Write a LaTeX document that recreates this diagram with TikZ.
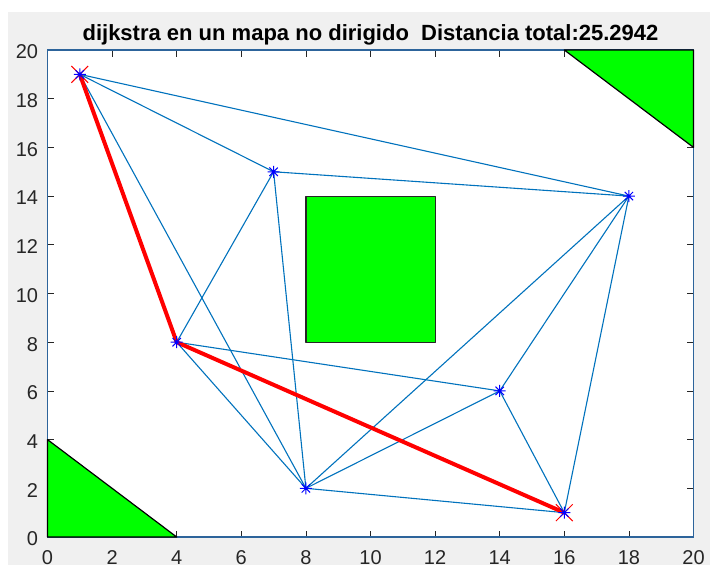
\documentclass[tikz,border=0pt]{standalone}
\usepackage{fontspec}
\setmainfont{Liberation Sans}
\usepackage{xcolor}
\definecolor{lineablue}{RGB}{0,114,189}
\definecolor{fondogris}{RGB}{240,240,240}
\definecolor{ejeazul}{RGB}{45,100,155}
\definecolor{ejegris}{RGB}{38,38,38}
\definecolor{obstverde}{RGB}{0,255,0}
\usepackage{tikz}
\usetikzlibrary{calc}

% Marcadores de los nodos
\tikzset{
    asterisco/.pic={\draw[blue, line width=0.5pt] (-3pt,0) -- (3pt,0) (0,-3pt) -- (0,3pt) (-2.1pt,-2.1pt) -- (2.1pt,2.1pt) (-2.1pt,2.1pt) -- (2.1pt,-2.1pt);},
    cruz/.pic={\draw[red, line width=0.5pt] (-4.2pt,-4.2pt) -- (4.2pt,4.2pt) (-4.2pt,4.2pt) -- (4.2pt,-4.2pt);}
}

\begin{document}
\begin{tikzpicture}[x=16.15pt, y=12.175pt,
        arista/.style={draw=lineablue, line width=0.55pt},
        ruta/.style={draw=red, line width=2pt, line join=round},
        obstaculo/.style={fill=obstverde, draw=black, line width=0.6pt, line join=round},
        marca/.style={draw=ejegris, line width=0.4pt},
        etiqueta/.style={font=\fontsize{10}{12}\selectfont, text=ejegris, inner sep=0pt}]

        \useasboundingbox (-1.4706,-1.3552) rectangle (20.6966,22.0534);
        \fill[fondogris] (-1.223,-1.15) rectangle (20.5,21.56);
        \fill[white] (0,0) rectangle (20,20);

        % Ejes y marcas
        \foreach \t in {0,2,...,20} {
            \draw[marca] (\t,0) -- ++(0,3.25pt);
            \draw[marca] (\t,20) -- ++(0,-3.25pt);
            \draw[marca] (0,\t) -- ++(3.25pt,0);
            \draw[marca] (20,\t) -- ++(-3.25pt,0);
            \node[etiqueta] (xl\t) at (\t,-0.84) {\t};
            \node[etiqueta, anchor=east] (yl\t) at (-0.28,\t-0.08) {\t};
        }
        \draw[ejeazul, line width=0.9pt] (0,0) rectangle (20,20);

        \node[font=\bfseries\fontsize{11}{13}\selectfont, anchor=base, inner sep=0pt] (titulo) at (10,20.41) {dijkstra en un mapa no dirigido\ \ Distancia total:25.2942};

        % Obstaculos
        \draw[obstaculo] (0,0) -- (0,4) -- (4,0) -- cycle;
        \draw[obstaculo] (16,20) -- (20,20) -- (20,16) -- cycle;
        \draw[obstaculo, draw=ejegris] (8,8) rectangle (12,14);

        % Nodos del mapa
        \coordinate (n1) at (1,19);
        \coordinate (n2) at (7,15);
        \coordinate (n3) at (18,14);
        \coordinate (n4) at (4,8);
        \coordinate (n5) at (14,6);
        \coordinate (n6) at (8,2);
        \coordinate (n7) at (16,1);

        % Aristas
        \draw[arista] (n1) -- (n3);
        \draw[arista] (n1) -- (n2);
        \draw[arista] (n1) -- (n4);
        \draw[arista] (n1) -- (n6);
        \draw[arista] (n2) -- (n3);
        \draw[arista] (n2) -- (n4);
        \draw[arista] (n2) -- (n6);
        \draw[arista] (n3) -- (n6);
        \draw[arista] (n3) -- (n5);
        \draw[arista] (n3) -- (n7);
        \draw[arista] (n4) -- (n5);
        \draw[arista] (n4) -- (n6);
        \draw[arista] (n4) -- (n7);
        \draw[arista] (n5) -- (n6);
        \draw[arista] (n5) -- (n7);
        \draw[arista] (n6) -- (n7);

        % Camino mas corto
        \draw[ruta] (n1) -- (n4) -- (n7);
        \pic at (n1) {cruz};
        \pic at (n7) {cruz};
        \foreach \n in {n1,n2,n3,n4,n5,n6,n7}
            \pic at (\n) {asterisco};
    \end{tikzpicture}
\end{document}
